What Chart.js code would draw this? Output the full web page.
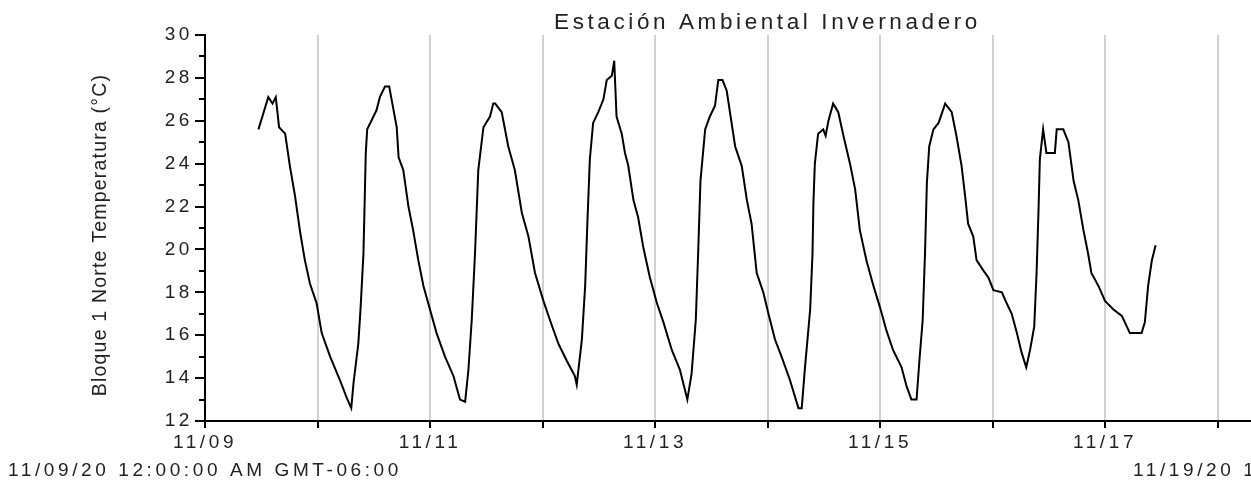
<!DOCTYPE html>
<html>
<head>
<meta charset="utf-8">
<title>Estación Ambiental Invernadero</title>
<script src="https://cdn.jsdelivr.net/npm/chart.js@4/dist/chart.umd.min.js"></script>
<style>
    body { margin: 0; background: #fff; overflow: hidden; }
    #wrap { width: 1251px; height: 483px; overflow: hidden; position: relative; }
</style>
</head>
<body>
<div id="wrap">
    <canvas id="temp-chart" width="1500" height="483"></canvas>
</div>
<script>
// hours since 11/09/20 00:00 and temperature readings (°C)
const hours = [
    11.4, 13.5, 14.4, 15.1, 15.8, 17.1, 18.1, 19.2, 20.3, 21.3, 22.4, 23.8, 24.9, 26.7, 28.8, 30.2, 31.2,
    31.7, 32.7, 33.2, 33.8, 34.1, 34.3, 34.6, 35.5, 36.6, 37.3, 38.4, 39.3, 39.8, 40.9, 41.3, 42.3, 43.4,
    44.4, 45.5, 46.6, 48.0, 49.4, 51.2, 53.0, 54.4, 55.5, 56.2, 56.9, 57.6, 58.3, 59.4, 60.8, 61.5, 61.9,
    63.3, 64.7, 66.1, 67.6, 69.0, 70.4, 72.2, 73.6, 75.4, 77.2, 78.9, 79.3, 80.4, 81.1, 81.6, 82.1, 82.8,
    83.9, 85.0, 85.7, 86.8, 87.3, 87.8, 88.9, 89.6, 90.3, 91.4, 92.4, 93.5, 94.9, 96.4, 97.8, 99.6, 101.3,
    102.9, 103.8, 104.7, 105.2, 105.7, 106.7, 107.7, 108.8, 109.5, 110.4, 111.3, 113.1, 114.5, 115.6, 116.6,
    117.7, 119.1, 120.2, 121.6, 123.0, 124.8, 126.6, 127.3, 128.0, 129.1, 129.6, 129.8, 130.1, 130.8, 131.9,
    132.4, 133.0, 134.0, 135.1, 136.2, 137.6, 138.7, 139.7, 141.1, 142.6, 144.0, 145.4, 146.8, 148.6, 149.7,
    150.7, 151.8, 152.4, 153.1, 153.6, 154.0, 154.5, 155.4, 156.5, 157.9, 159.3, 160.3, 161.4, 162.1, 162.8,
    163.9, 164.6, 166.1, 167.1, 168.2, 170.0, 171.0, 172.1, 173.2, 174.2, 175.2, 176.0, 176.9, 177.4, 177.8,
    178.1, 178.8, 179.5, 181.3, 181.7, 183.1, 184.2, 185.3, 186.3, 187.4, 188.4, 189.1, 190.6, 192.0, 193.8,
    195.6, 197.3, 199.8, 200.5, 201.2, 202.0, 202.8
];
const temps = [
    25.6, 27.1, 26.8, 27.1, 25.7, 25.4, 23.9, 22.5, 20.8, 19.5, 18.4, 17.5, 16.1, 15.0, 13.9, 13.1, 12.6,
    13.8, 15.6, 17.3, 19.8, 22.6, 24.5, 25.6, 26.0, 26.5, 27.1, 27.6, 27.6, 27.0, 25.7, 24.3, 23.7, 22.0,
    20.9, 19.5, 18.3, 17.2, 16.1, 15.0, 14.1, 13.0, 12.9, 14.4, 16.7, 19.8, 23.7, 25.7, 26.2, 26.8, 26.8,
    26.4, 24.8, 23.7, 21.7, 20.6, 18.9, 17.6, 16.7, 15.6, 14.8, 14.1, 13.7, 15.8, 18.3, 21.4, 24.2, 25.9,
    26.4, 27.0, 27.9, 28.1, 28.8, 26.2, 25.4, 24.5, 23.9, 22.3, 21.5, 20.1, 18.7, 17.5, 16.6, 15.3, 14.4,
    13.0, 14.2, 16.7, 19.8, 23.2, 25.6, 26.2, 26.7, 27.9, 27.9, 27.4, 24.8, 23.9, 22.3, 21.2,
    18.9, 18.0, 17.0, 15.8, 15.0, 13.9, 12.6, 12.6, 14.5, 17.2, 19.8, 22.2, 24.0, 25.4, 25.6,
    25.3, 26.0, 26.8, 26.4, 25.3, 24.0, 22.8, 20.9, 19.5, 18.3, 17.3, 16.2, 15.3, 14.5, 13.6,
    13.0, 13.0, 14.8, 16.7, 19.8, 23.1, 24.8, 25.6, 25.9, 26.8, 26.4, 25.3, 23.9, 22.6, 21.2,
    20.6, 19.5, 19.0, 18.7, 18.1, 18.0, 17.5, 17.0, 16.1, 15.2, 14.5, 15.3, 16.4, 18.9, 21.7,
    24.2, 25.6, 24.5, 24.5, 25.6, 25.6, 25.0, 23.2, 22.3, 20.9, 19.8, 18.9, 18.3, 17.6, 17.2,
    16.9, 16.1, 16.1, 16.6, 18.3, 19.5, 20.2
];
const dayLabels = ['11/09', '', '11/11', '', '11/13', '', '11/15', '', '11/17', '', '11/19'];
const rangeLabels = ['11/09/20 12:00:00 AM GMT-06:00', '11/19/20 12:00:00 AM GMT-06:00'];
const chartTitle = 'Estación Ambiental Invernadero';
const yTitle = 'Bloque 1 Norte Temperatura (°C)';

const textColor = '#222';
const fontFamily = '"Liberation Sans", Arial, sans-serif';

// wide letter spacing for every label drawn by the chart
const spacingPlugin = {
    id: 'spacing',
    beforeDraw(chart) {
        chart.ctx.letterSpacing = '3.6px';
    }
};

// minor ticks, y title and the start/end date labels
const extrasPlugin = {
    id: 'extras',
    afterDraw(chart) {
        const ctx = chart.ctx;
        const area = chart.chartArea;
        const y = chart.scales.y;
        const x = chart.scales.x;

        ctx.save();
        ctx.strokeStyle = '#000';
        ctx.lineWidth = 2;
        for (let v = 13; v < 30; v += 2) {
            const py = Math.round(y.getPixelForValue(v));
            ctx.beginPath();
            ctx.moveTo(area.left - 6, py);
            ctx.lineTo(area.left, py);
            ctx.stroke();
        }

        ctx.fillStyle = textColor;
        ctx.letterSpacing = '1.2px';
        ctx.font = '19.5px ' + fontFamily;
        ctx.textAlign = 'center';
        ctx.textBaseline = 'middle';
        ctx.translate(101, (area.top + area.bottom) / 2 + 7);
        ctx.rotate(-Math.PI / 2);
        ctx.fillText(yTitle, 0, 0);
        ctx.restore();

        ctx.save();
        ctx.fillStyle = textColor;
        ctx.letterSpacing = '3.6px';
        ctx.font = '19px ' + fontFamily;
        ctx.textAlign = 'center';
        ctx.textBaseline = 'middle';
        ctx.fillText(rangeLabels[0], x.getPixelForValue(x.min), 471);
        ctx.fillText(rangeLabels[1], x.getPixelForValue(x.max), 471);
        ctx.restore();
    }
};

const points = hours.map((h, i) => ({ x: h, y: temps[i] }));

const ctx = document.getElementById('temp-chart').getContext('2d');
const config = {
    type: 'line',
    data: {
        datasets: [{
            label: yTitle,
            data: points,
            borderColor: '#000',
            borderWidth: 2,
            pointRadius: 0,
            tension: 0,
            fill: false
        }]
    },
    options: {
        responsive: false,
        animation: false,
        layout: {
            padding: { left: 0, right: 170, top: 0, bottom: 0 }
        },
        plugins: {
            legend: { display: false },
            tooltip: { enabled: false },
            title: {
                display: true,
                text: chartTitle,
                fullSize: false,
                color: textColor,
                font: { family: fontFamily, size: 22.5, weight: 'normal', lineHeight: 1 },
                padding: { top: 12, bottom: 0.5 }
            }
        },
        scales: {
            x: {
                type: 'linear',
                min: 0,
                max: 240,
                afterFit: (scale) => { scale.height = 62; },
                ticks: {
                    stepSize: 24,
                    autoSkip: false,
                    maxRotation: 0,
                    padding: 3,
                    color: textColor,
                    font: { family: fontFamily, size: 19 },
                    callback: (value) => dayLabels[Math.round(value / 24)]
                },
                grid: {
                    color: '#d2d2d2',
                    lineWidth: 2,
                    tickColor: '#000',
                    tickLength: 7
                },
                border: { color: '#000', width: 2 }
            },
            y: {
                min: 12,
                max: 30,
                afterFit: (scale) => { scale.width = 205; },
                ticks: {
                    stepSize: 2,
                    padding: 2,
                    color: textColor,
                    font: { family: fontFamily, size: 19 }
                },
                grid: {
                    drawOnChartArea: false,
                    tickColor: '#000',
                    tickLength: 10,
                    lineWidth: 2
                },
                border: { color: '#000', width: 2 }
            }
        }
    },
    plugins: [spacingPlugin, extrasPlugin]
};

new Chart(ctx, config);
</script>
</body>
</html>
